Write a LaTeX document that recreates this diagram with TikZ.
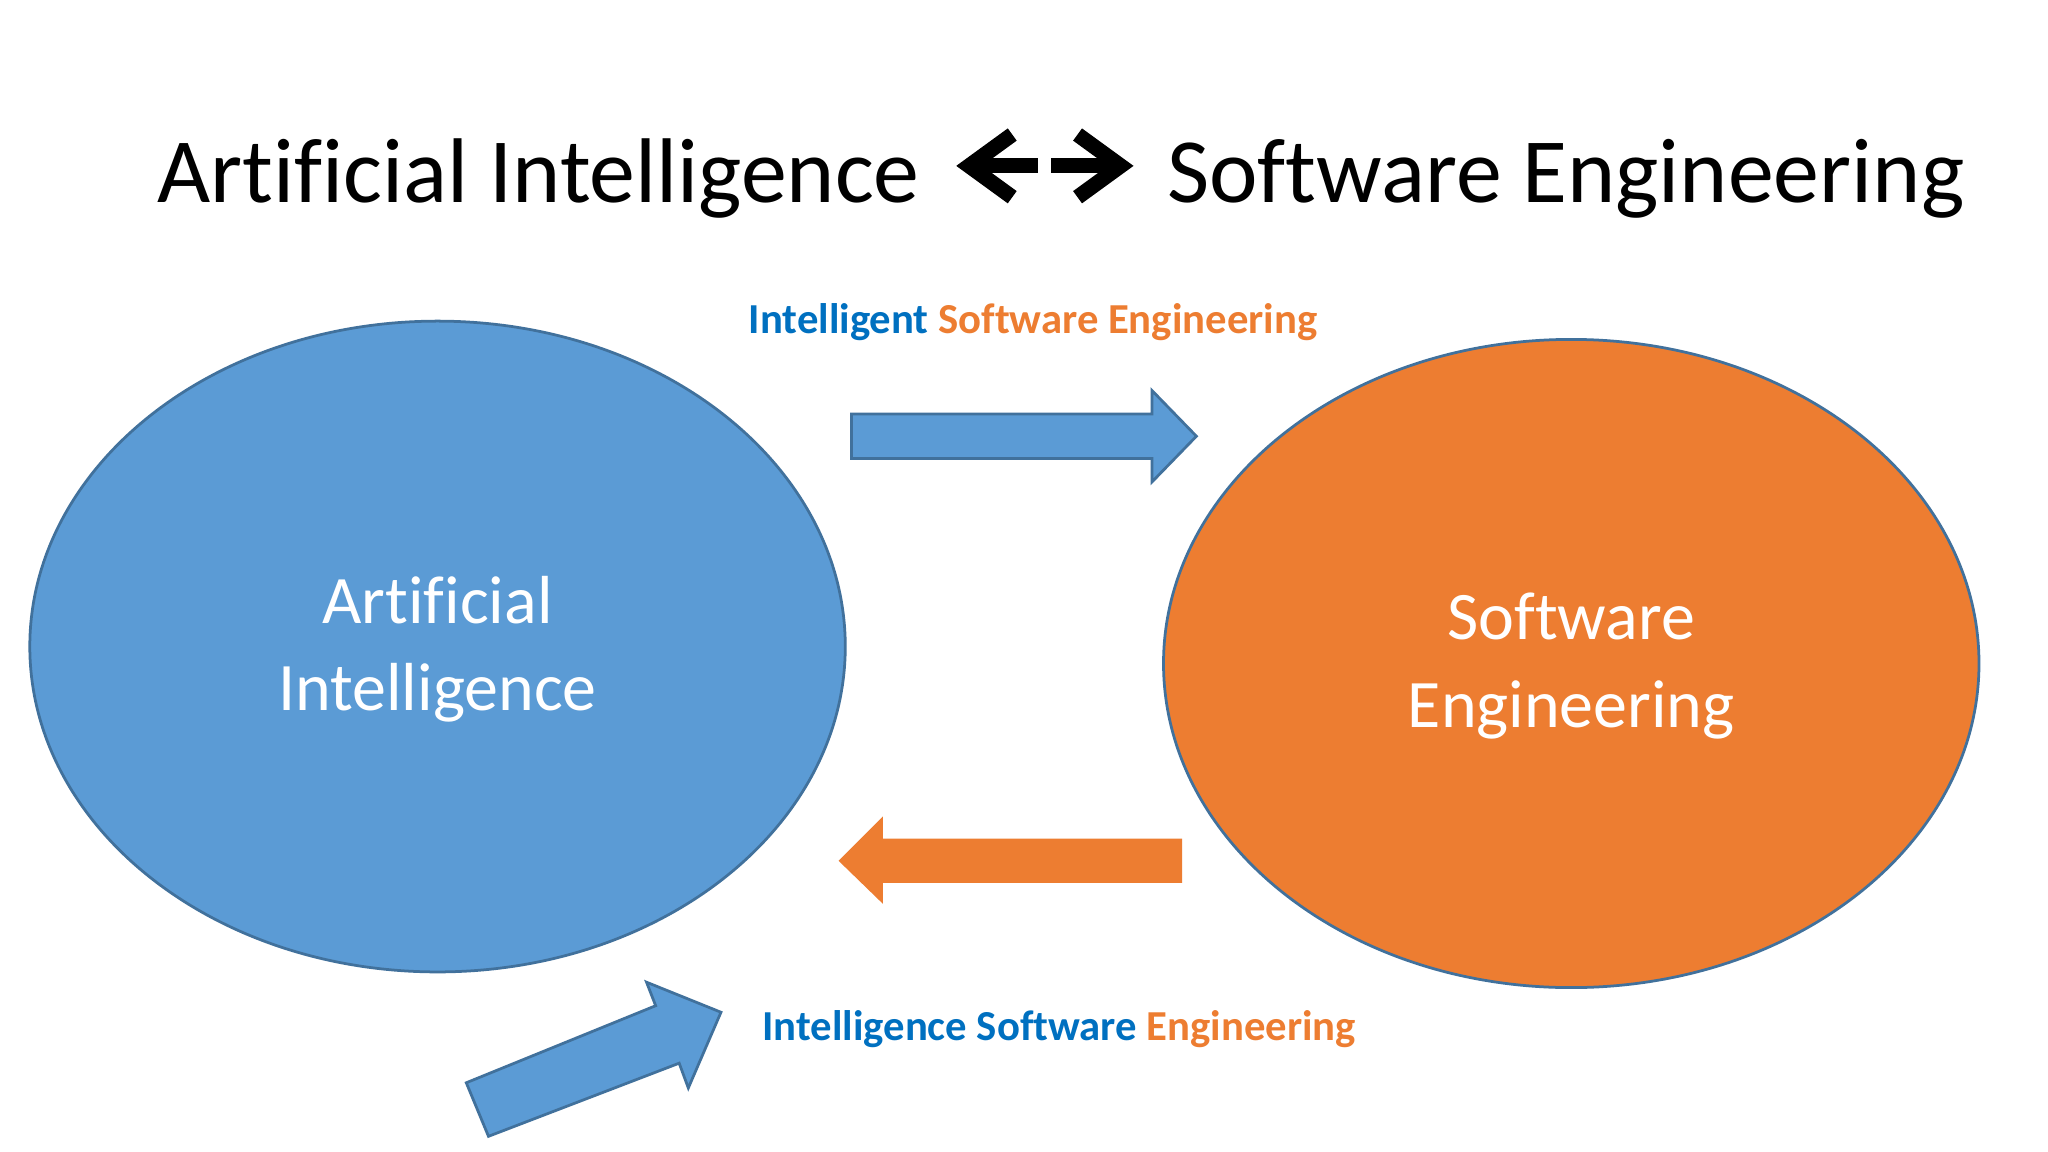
\documentclass[tikz,border=0pt]{standalone}
\usepackage{fontspec}
\setmainfont[Ligatures=NoCommon]{Carlito}
\usetikzlibrary{shapes.geometric}
\definecolor{aiblue}{HTML}{5B9BD5}
\definecolor{seorange}{HTML}{ED7D31}
\definecolor{txtblue}{HTML}{0070C0}
\definecolor{edgeblue}{HTML}{41719C}
\tikzset{
  ell/.style={ellipse, draw=edgeblue, line width=0.6pt, inner sep=0pt},
  elltext/.style={text=white, align=center, font=\fontsize{14.8}{15}\selectfont},
  lbl/.style={font=\bfseries\fontsize{9.3}{10}\selectfont, inner sep=0pt},
  ttl/.style={font=\fontsize{20}{24}\selectfont, inner sep=0pt},
  blk/.style={line width=3.3pt, line cap=butt, line join=miter}
}
\begin{document}
\begin{tikzpicture}[x=0.01cm,y=-0.01cm]
\useasboundingbox (0,0) rectangle (1568,882);
\fill[white] (0,0) rectangle (1568,882);
% title
\node[ttl, anchor=base west] (t1) at (120,155) {Artificial Intelligence};
\node[ttl, anchor=base west] (t2) at (893,155) {Software Engineering};
\draw[blk] (775,103) -- (742,127) -- (775,151);
\draw[blk] (742,127) -- (795,127);
\draw[blk] (825,103) -- (858,127) -- (825,151);
\draw[blk] (805,127) -- (858,127);
% ellipses
\node[ell, fill=aiblue, minimum width=6.24cm, minimum height=4.98cm] (ai) at (335,495) {};
\node[ell, fill=seorange, minimum width=6.24cm, minimum height=4.96cm] (se) at (1203,508) {};
\node[elltext] (ait) at (335,497) {Artificial\\[0.14cm]Intelligence};
\node[elltext] (set) at (1203,510) {Software\\[0.14cm]Engineering};
% labels
\node[lbl] (l1) at (791,247) {\textcolor{txtblue}{Intelligent} \textcolor{seorange}{Software Engineering}};
\node[lbl] (l2) at (811,788) {\textcolor{txtblue}{Intelligence Software} \textcolor{seorange}{Engineering}};
% arrows
\draw[fill=aiblue, draw=edgeblue, line width=0.6pt] (652,317) -- (882,317) -- (882,299) -- (916,334) -- (882,369) -- (882,351) -- (652,351) -- cycle;
\fill[seorange] (905,642) -- (676,642) -- (676,625) -- (642,659) -- (676,692) -- (676,676) -- (905,676) -- cycle;
\draw[fill=aiblue, draw=edgeblue, line width=0.6pt] (357,829) -- (502,770) -- (495,752) -- (552,775) -- (527,833) -- (520,814) -- (374,870) -- cycle;
\end{tikzpicture}
\end{document}
